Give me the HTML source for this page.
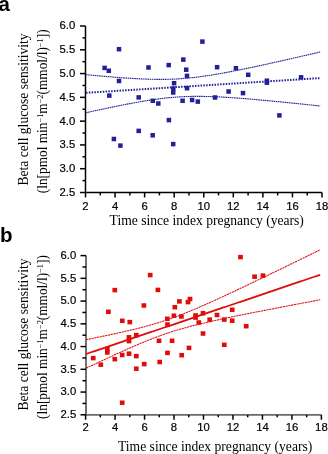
<!DOCTYPE html>
<html><head><meta charset="utf-8"><style>
html,body{margin:0;padding:0;background:#fff;}
body{width:328px;height:454px;overflow:hidden;}
svg{display:block;will-change:transform;}
.tl{font-family:"Liberation Sans",sans-serif;font-size:11.3px;fill:#000;stroke:#000;stroke-width:0.2px;}
.at{font-family:"Liberation Serif",serif;font-size:13.6px;fill:#000;}
.sup{font-size:8.5px;}
.pl{font-family:"Liberation Sans",sans-serif;font-size:20.5px;font-weight:bold;fill:#000;}
</style></head><body>
<svg width="328" height="454" viewBox="0 0 328 454">
<line x1="85.5" y1="26.0" x2="85.5" y2="192.4" stroke="#000" stroke-width="1.5"/>
<line x1="85.5" y1="192.4" x2="322.0" y2="192.4" stroke="#000" stroke-width="1.5"/>
<line x1="80.00" y1="26.00" x2="85.5" y2="26.00" stroke="#000" stroke-width="1.5"/>
<line x1="82.50" y1="37.89" x2="85.5" y2="37.89" stroke="#000" stroke-width="1.5"/>
<line x1="80.00" y1="49.79" x2="85.5" y2="49.79" stroke="#000" stroke-width="1.5"/>
<line x1="82.50" y1="61.68" x2="85.5" y2="61.68" stroke="#000" stroke-width="1.5"/>
<line x1="80.00" y1="73.57" x2="85.5" y2="73.57" stroke="#000" stroke-width="1.5"/>
<line x1="82.50" y1="85.46" x2="85.5" y2="85.46" stroke="#000" stroke-width="1.5"/>
<line x1="80.00" y1="97.36" x2="85.5" y2="97.36" stroke="#000" stroke-width="1.5"/>
<line x1="82.50" y1="109.25" x2="85.5" y2="109.25" stroke="#000" stroke-width="1.5"/>
<line x1="80.00" y1="121.14" x2="85.5" y2="121.14" stroke="#000" stroke-width="1.5"/>
<line x1="82.50" y1="133.04" x2="85.5" y2="133.04" stroke="#000" stroke-width="1.5"/>
<line x1="80.00" y1="144.93" x2="85.5" y2="144.93" stroke="#000" stroke-width="1.5"/>
<line x1="82.50" y1="156.82" x2="85.5" y2="156.82" stroke="#000" stroke-width="1.5"/>
<line x1="80.00" y1="168.71" x2="85.5" y2="168.71" stroke="#000" stroke-width="1.5"/>
<line x1="82.50" y1="180.61" x2="85.5" y2="180.61" stroke="#000" stroke-width="1.5"/>
<line x1="80.00" y1="192.50" x2="85.5" y2="192.50" stroke="#000" stroke-width="1.5"/>
<line x1="85.50" y1="192.4" x2="85.50" y2="197.4" stroke="#000" stroke-width="1.5"/>
<line x1="100.28" y1="192.4" x2="100.28" y2="195.4" stroke="#000" stroke-width="1.5"/>
<line x1="115.06" y1="192.4" x2="115.06" y2="197.4" stroke="#000" stroke-width="1.5"/>
<line x1="129.84" y1="192.4" x2="129.84" y2="195.4" stroke="#000" stroke-width="1.5"/>
<line x1="144.62" y1="192.4" x2="144.62" y2="197.4" stroke="#000" stroke-width="1.5"/>
<line x1="159.41" y1="192.4" x2="159.41" y2="195.4" stroke="#000" stroke-width="1.5"/>
<line x1="174.19" y1="192.4" x2="174.19" y2="197.4" stroke="#000" stroke-width="1.5"/>
<line x1="188.97" y1="192.4" x2="188.97" y2="195.4" stroke="#000" stroke-width="1.5"/>
<line x1="203.75" y1="192.4" x2="203.75" y2="197.4" stroke="#000" stroke-width="1.5"/>
<line x1="218.53" y1="192.4" x2="218.53" y2="195.4" stroke="#000" stroke-width="1.5"/>
<line x1="233.31" y1="192.4" x2="233.31" y2="197.4" stroke="#000" stroke-width="1.5"/>
<line x1="248.09" y1="192.4" x2="248.09" y2="195.4" stroke="#000" stroke-width="1.5"/>
<line x1="262.88" y1="192.4" x2="262.88" y2="197.4" stroke="#000" stroke-width="1.5"/>
<line x1="277.66" y1="192.4" x2="277.66" y2="195.4" stroke="#000" stroke-width="1.5"/>
<line x1="292.44" y1="192.4" x2="292.44" y2="197.4" stroke="#000" stroke-width="1.5"/>
<line x1="307.22" y1="192.4" x2="307.22" y2="195.4" stroke="#000" stroke-width="1.5"/>
<line x1="322.00" y1="192.4" x2="322.00" y2="197.4" stroke="#000" stroke-width="1.5"/>
<text x="75.3" y="29.40" text-anchor="end" class="tl">6.0</text>
<text x="75.3" y="53.19" text-anchor="end" class="tl">5.5</text>
<text x="75.3" y="76.97" text-anchor="end" class="tl">5.0</text>
<text x="75.3" y="100.76" text-anchor="end" class="tl">4.5</text>
<text x="75.3" y="124.54" text-anchor="end" class="tl">4.0</text>
<text x="75.3" y="148.33" text-anchor="end" class="tl">3.5</text>
<text x="75.3" y="172.11" text-anchor="end" class="tl">3.0</text>
<text x="75.3" y="195.90" text-anchor="end" class="tl">2.5</text>
<text x="85.50" y="210.4" text-anchor="middle" class="tl">2</text>
<text x="115.06" y="210.4" text-anchor="middle" class="tl">4</text>
<text x="144.62" y="210.4" text-anchor="middle" class="tl">6</text>
<text x="174.19" y="210.4" text-anchor="middle" class="tl">8</text>
<text x="203.75" y="210.4" text-anchor="middle" class="tl">10</text>
<text x="233.31" y="210.4" text-anchor="middle" class="tl">12</text>
<text x="262.88" y="210.4" text-anchor="middle" class="tl">14</text>
<text x="292.44" y="210.4" text-anchor="middle" class="tl">16</text>
<text x="322.00" y="210.4" text-anchor="middle" class="tl">18</text>
<line x1="86.0" y1="255.6" x2="86.0" y2="414.9" stroke="#686868" stroke-width="1.9"/>
<line x1="86.0" y1="414.9" x2="321.4" y2="414.9" stroke="#686868" stroke-width="1.9"/>
<line x1="80.50" y1="255.60" x2="86.0" y2="255.60" stroke="#000" stroke-width="1.5"/>
<line x1="82.40" y1="266.97" x2="86.0" y2="266.97" stroke="#000" stroke-width="1.5"/>
<line x1="80.50" y1="278.34" x2="86.0" y2="278.34" stroke="#000" stroke-width="1.5"/>
<line x1="82.40" y1="289.71" x2="86.0" y2="289.71" stroke="#000" stroke-width="1.5"/>
<line x1="80.50" y1="301.09" x2="86.0" y2="301.09" stroke="#000" stroke-width="1.5"/>
<line x1="82.40" y1="312.46" x2="86.0" y2="312.46" stroke="#000" stroke-width="1.5"/>
<line x1="80.50" y1="323.83" x2="86.0" y2="323.83" stroke="#000" stroke-width="1.5"/>
<line x1="82.40" y1="335.20" x2="86.0" y2="335.20" stroke="#000" stroke-width="1.5"/>
<line x1="80.50" y1="346.57" x2="86.0" y2="346.57" stroke="#000" stroke-width="1.5"/>
<line x1="82.40" y1="357.94" x2="86.0" y2="357.94" stroke="#000" stroke-width="1.5"/>
<line x1="80.50" y1="369.31" x2="86.0" y2="369.31" stroke="#000" stroke-width="1.5"/>
<line x1="82.40" y1="380.69" x2="86.0" y2="380.69" stroke="#000" stroke-width="1.5"/>
<line x1="80.50" y1="392.06" x2="86.0" y2="392.06" stroke="#000" stroke-width="1.5"/>
<line x1="82.40" y1="403.43" x2="86.0" y2="403.43" stroke="#000" stroke-width="1.5"/>
<line x1="80.50" y1="414.80" x2="86.0" y2="414.80" stroke="#000" stroke-width="1.5"/>
<line x1="85.60" y1="414.9" x2="85.60" y2="419.7" stroke="#000" stroke-width="1.5"/>
<line x1="100.34" y1="414.9" x2="100.34" y2="417.29999999999995" stroke="#000" stroke-width="1.5"/>
<line x1="115.07" y1="414.9" x2="115.07" y2="419.7" stroke="#000" stroke-width="1.5"/>
<line x1="129.81" y1="414.9" x2="129.81" y2="417.29999999999995" stroke="#000" stroke-width="1.5"/>
<line x1="144.55" y1="414.9" x2="144.55" y2="419.7" stroke="#000" stroke-width="1.5"/>
<line x1="159.29" y1="414.9" x2="159.29" y2="417.29999999999995" stroke="#000" stroke-width="1.5"/>
<line x1="174.02" y1="414.9" x2="174.02" y2="419.7" stroke="#000" stroke-width="1.5"/>
<line x1="188.76" y1="414.9" x2="188.76" y2="417.29999999999995" stroke="#000" stroke-width="1.5"/>
<line x1="203.50" y1="414.9" x2="203.50" y2="419.7" stroke="#000" stroke-width="1.5"/>
<line x1="218.24" y1="414.9" x2="218.24" y2="417.29999999999995" stroke="#000" stroke-width="1.5"/>
<line x1="232.97" y1="414.9" x2="232.97" y2="419.7" stroke="#000" stroke-width="1.5"/>
<line x1="247.71" y1="414.9" x2="247.71" y2="417.29999999999995" stroke="#000" stroke-width="1.5"/>
<line x1="262.45" y1="414.9" x2="262.45" y2="419.7" stroke="#000" stroke-width="1.5"/>
<line x1="277.19" y1="414.9" x2="277.19" y2="417.29999999999995" stroke="#000" stroke-width="1.5"/>
<line x1="291.92" y1="414.9" x2="291.92" y2="419.7" stroke="#000" stroke-width="1.5"/>
<line x1="306.66" y1="414.9" x2="306.66" y2="417.29999999999995" stroke="#000" stroke-width="1.5"/>
<line x1="321.40" y1="414.9" x2="321.40" y2="419.7" stroke="#000" stroke-width="1.5"/>
<text x="76.2" y="259.00" text-anchor="end" class="tl">6.0</text>
<text x="76.2" y="281.74" text-anchor="end" class="tl">5.5</text>
<text x="76.2" y="304.49" text-anchor="end" class="tl">5.0</text>
<text x="76.2" y="327.23" text-anchor="end" class="tl">4.5</text>
<text x="76.2" y="349.97" text-anchor="end" class="tl">4.0</text>
<text x="76.2" y="372.71" text-anchor="end" class="tl">3.5</text>
<text x="76.2" y="395.46" text-anchor="end" class="tl">3.0</text>
<text x="76.2" y="418.20" text-anchor="end" class="tl">2.5</text>
<text x="85.60" y="431.3" text-anchor="middle" class="tl">2</text>
<text x="115.07" y="431.3" text-anchor="middle" class="tl">4</text>
<text x="144.55" y="431.3" text-anchor="middle" class="tl">6</text>
<text x="174.02" y="431.3" text-anchor="middle" class="tl">8</text>
<text x="203.50" y="431.3" text-anchor="middle" class="tl">10</text>
<text x="232.97" y="431.3" text-anchor="middle" class="tl">12</text>
<text x="262.45" y="431.3" text-anchor="middle" class="tl">14</text>
<text x="291.92" y="431.3" text-anchor="middle" class="tl">16</text>
<text x="321.40" y="431.3" text-anchor="middle" class="tl">18</text>
<path d="M86.00,92.80 L88.93,92.62 L91.86,92.43 L94.78,92.25 L97.71,92.06 L100.64,91.88 L103.56,91.70 L106.49,91.51 L109.42,91.33 L112.35,91.15 L115.28,90.96 L118.20,90.78 L121.13,90.59 L124.06,90.41 L126.98,90.23 L129.91,90.04 L132.84,89.86 L135.77,89.67 L138.69,89.49 L141.62,89.31 L144.55,89.12 L147.48,88.94 L150.41,88.76 L153.33,88.57 L156.26,88.39 L159.19,88.20 L162.12,88.02 L165.04,87.84 L167.97,87.65 L170.90,87.47 L173.82,87.28 L176.75,87.10 L179.68,86.92 L182.61,86.73 L185.53,86.55 L188.46,86.37 L191.39,86.18 L194.32,86.00 L197.25,85.81 L200.17,85.63 L203.10,85.45 L206.03,85.26 L208.95,85.08 L211.88,84.89 L214.81,84.71 L217.74,84.53 L220.66,84.34 L223.59,84.16 L226.52,83.98 L229.45,83.79 L232.38,83.61 L235.30,83.42 L238.23,83.24 L241.16,83.06 L244.08,82.87 L247.01,82.69 L249.94,82.50 L252.87,82.32 L255.79,82.14 L258.72,81.95 L261.65,81.77 L264.58,81.59 L267.50,81.40 L270.43,81.22 L273.36,81.03 L276.29,80.85 L279.21,80.67 L282.14,80.48 L285.07,80.30 L288.00,80.11 L290.93,79.93 L293.85,79.75 L296.78,79.56 L299.71,79.38 L302.63,79.20 L305.56,79.01 L308.49,78.83 L311.42,78.64 L314.34,78.46 L317.27,78.28 L320.20,78.09" fill="none" stroke="#222096" stroke-width="2.0" stroke-dasharray="1.5 1.3"/>
<path d="M86.00,74.65 L88.93,74.93 L91.86,75.21 L94.78,75.48 L97.71,75.74 L100.64,76.01 L103.56,76.26 L106.49,76.52 L109.42,76.76 L112.35,77.00 L115.28,77.24 L118.20,77.46 L121.13,77.68 L124.06,77.89 L126.98,78.09 L129.91,78.28 L132.84,78.46 L135.77,78.63 L138.69,78.78 L141.62,78.92 L144.55,79.04 L147.48,79.15 L150.41,79.23 L153.33,79.30 L156.26,79.35 L159.19,79.37 L162.12,79.36 L165.04,79.33 L167.97,79.28 L170.90,79.19 L173.82,79.08 L176.75,78.93 L179.68,78.76 L182.61,78.55 L185.53,78.31 L188.46,78.05 L191.39,77.75 L194.32,77.43 L197.25,77.08 L200.17,76.70 L203.10,76.30 L206.03,75.88 L208.95,75.43 L211.88,74.97 L214.81,74.49 L217.74,73.99 L220.66,73.48 L223.59,72.95 L226.52,72.41 L229.45,71.86 L232.38,71.30 L235.30,70.72 L238.23,70.14 L241.16,69.55 L244.08,68.95 L247.01,68.35 L249.94,67.74 L252.87,67.12 L255.79,66.50 L258.72,65.87 L261.65,65.24 L264.58,64.60 L267.50,63.96 L270.43,63.32 L273.36,62.67 L276.29,62.02 L279.21,61.37 L282.14,60.71 L285.07,60.05 L288.00,59.39 L290.93,58.72 L293.85,58.06 L296.78,57.39 L299.71,56.72 L302.63,56.05 L305.56,55.38 L308.49,54.70 L311.42,54.02 L314.34,53.35 L317.27,52.67 L320.20,51.99" fill="none" stroke="#222096" stroke-width="1.1" stroke-dasharray="1.6 0.6"/>
<path d="M86.00,112.75 L88.93,112.10 L91.86,111.46 L94.78,110.82 L97.71,110.19 L100.64,109.56 L103.56,108.93 L106.49,108.31 L109.42,107.70 L112.35,107.09 L115.28,106.49 L118.20,105.89 L121.13,105.31 L124.06,104.73 L126.98,104.16 L129.91,103.60 L132.84,103.06 L135.77,102.52 L138.69,102.00 L141.62,101.49 L144.55,101.00 L147.48,100.53 L150.41,100.08 L153.33,99.64 L156.26,99.23 L159.19,98.84 L162.12,98.48 L165.04,98.14 L167.97,97.83 L170.90,97.54 L173.82,97.29 L176.75,97.07 L179.68,96.88 L182.61,96.72 L185.53,96.58 L188.46,96.48 L191.39,96.41 L194.32,96.37 L197.25,96.35 L200.17,96.36 L203.10,96.39 L206.03,96.45 L208.95,96.52 L211.88,96.62 L214.81,96.73 L217.74,96.86 L220.66,97.01 L223.59,97.17 L226.52,97.34 L229.45,97.52 L232.38,97.72 L235.30,97.92 L238.23,98.14 L241.16,98.36 L244.08,98.59 L247.01,98.83 L249.94,99.07 L252.87,99.32 L255.79,99.57 L258.72,99.83 L261.65,100.10 L264.58,100.37 L267.50,100.64 L270.43,100.92 L273.36,101.20 L276.29,101.48 L279.21,101.77 L282.14,102.06 L285.07,102.35 L288.00,102.64 L290.93,102.94 L293.85,103.24 L296.78,103.54 L299.71,103.84 L302.63,104.14 L305.56,104.45 L308.49,104.75 L311.42,105.06 L314.34,105.37 L317.27,105.68 L320.20,106.00" fill="none" stroke="#222096" stroke-width="1.1" stroke-dasharray="1.6 0.6"/>
<rect x="116.75" y="46.95" width="4.5" height="4.5" fill="#222096"/>
<rect x="102.35" y="65.65" width="4.5" height="4.5" fill="#222096"/>
<rect x="106.55" y="68.55" width="4.5" height="4.5" fill="#222096"/>
<rect x="116.75" y="78.75" width="4.5" height="4.5" fill="#222096"/>
<rect x="107.05" y="93.35" width="4.5" height="4.5" fill="#222096"/>
<rect x="136.45" y="95.15" width="4.5" height="4.5" fill="#222096"/>
<rect x="136.45" y="128.65" width="4.5" height="4.5" fill="#222096"/>
<rect x="111.65" y="136.75" width="4.5" height="4.5" fill="#222096"/>
<rect x="118.15" y="143.35" width="4.5" height="4.5" fill="#222096"/>
<rect x="146.25" y="65.25" width="4.5" height="4.5" fill="#222096"/>
<rect x="166.45" y="62.85" width="4.5" height="4.5" fill="#222096"/>
<rect x="181.05" y="57.35" width="4.5" height="4.5" fill="#222096"/>
<rect x="183.95" y="67.45" width="4.5" height="4.5" fill="#222096"/>
<rect x="184.75" y="73.65" width="4.5" height="4.5" fill="#222096"/>
<rect x="200.15" y="39.35" width="4.5" height="4.5" fill="#222096"/>
<rect x="171.85" y="80.95" width="4.5" height="4.5" fill="#222096"/>
<rect x="171.05" y="86.35" width="4.5" height="4.5" fill="#222096"/>
<rect x="170.95" y="90.25" width="4.5" height="4.5" fill="#222096"/>
<rect x="184.75" y="85.95" width="4.5" height="4.5" fill="#222096"/>
<rect x="150.55" y="98.55" width="4.5" height="4.5" fill="#222096"/>
<rect x="156.05" y="101.25" width="4.5" height="4.5" fill="#222096"/>
<rect x="180.35" y="98.55" width="4.5" height="4.5" fill="#222096"/>
<rect x="189.85" y="97.75" width="4.5" height="4.5" fill="#222096"/>
<rect x="195.55" y="99.35" width="4.5" height="4.5" fill="#222096"/>
<rect x="166.65" y="117.85" width="4.5" height="4.5" fill="#222096"/>
<rect x="150.45" y="133.05" width="4.5" height="4.5" fill="#222096"/>
<rect x="170.95" y="141.85" width="4.5" height="4.5" fill="#222096"/>
<rect x="214.85" y="64.95" width="4.5" height="4.5" fill="#222096"/>
<rect x="233.65" y="65.95" width="4.5" height="4.5" fill="#222096"/>
<rect x="245.95" y="72.55" width="4.5" height="4.5" fill="#222096"/>
<rect x="226.35" y="89.25" width="4.5" height="4.5" fill="#222096"/>
<rect x="240.75" y="90.85" width="4.5" height="4.5" fill="#222096"/>
<rect x="212.75" y="95.25" width="4.5" height="4.5" fill="#222096"/>
<rect x="264.65" y="78.45" width="4.5" height="4.5" fill="#222096"/>
<rect x="264.65" y="80.45" width="4.5" height="4.5" fill="#222096"/>
<rect x="298.85" y="75.05" width="4.5" height="4.5" fill="#222096"/>
<rect x="277.15" y="113.15" width="4.5" height="4.5" fill="#222096"/>
<path d="M86.00,354.00 L88.93,353.01 L91.86,352.02 L94.78,351.03 L97.71,350.04 L100.64,349.05 L103.56,348.06 L106.49,347.07 L109.42,346.08 L112.35,345.09 L115.28,344.10 L118.20,343.11 L121.13,342.12 L124.06,341.13 L126.98,340.14 L129.91,339.15 L132.84,338.16 L135.77,337.17 L138.69,336.18 L141.62,335.19 L144.55,334.20 L147.48,333.21 L150.41,332.22 L153.33,331.23 L156.26,330.24 L159.19,329.25 L162.12,328.26 L165.04,327.27 L167.97,326.28 L170.90,325.29 L173.82,324.30 L176.75,323.31 L179.68,322.32 L182.61,321.33 L185.53,320.34 L188.46,319.35 L191.39,318.36 L194.32,317.37 L197.25,316.38 L200.17,315.39 L203.10,314.40 L206.03,313.41 L208.95,312.42 L211.88,311.43 L214.81,310.44 L217.74,309.45 L220.66,308.46 L223.59,307.47 L226.52,306.48 L229.45,305.49 L232.38,304.50 L235.30,303.51 L238.23,302.52 L241.16,301.53 L244.08,300.54 L247.01,299.55 L249.94,298.56 L252.87,297.57 L255.79,296.58 L258.72,295.59 L261.65,294.60 L264.58,293.61 L267.50,292.62 L270.43,291.62 L273.36,290.63 L276.29,289.64 L279.21,288.65 L282.14,287.66 L285.07,286.67 L288.00,285.68 L290.93,284.69 L293.85,283.70 L296.78,282.71 L299.71,281.72 L302.63,280.73 L305.56,279.74 L308.49,278.75 L311.42,277.76 L314.34,276.77 L317.27,275.78 L320.20,274.79" fill="none" stroke="#e00c0c" stroke-width="1.8"/>
<path d="M86.00,339.71 L88.93,339.12 L91.86,338.53 L94.78,337.94 L97.71,337.34 L100.64,336.74 L103.56,336.13 L106.49,335.51 L109.42,334.89 L112.35,334.27 L115.28,333.63 L118.20,332.99 L121.13,332.34 L124.06,331.68 L126.98,331.00 L129.91,330.32 L132.84,329.62 L135.77,328.90 L138.69,328.17 L141.62,327.42 L144.55,326.65 L147.48,325.86 L150.41,325.04 L153.33,324.20 L156.26,323.33 L159.19,322.43 L162.12,321.50 L165.04,320.54 L167.97,319.55 L170.90,318.53 L173.82,317.48 L176.75,316.40 L179.68,315.29 L182.61,314.15 L185.53,312.99 L188.46,311.80 L191.39,310.59 L194.32,309.36 L197.25,308.11 L200.17,306.84 L203.10,305.56 L206.03,304.27 L208.95,302.96 L211.88,301.64 L214.81,300.31 L217.74,298.98 L220.66,297.63 L223.59,296.28 L226.52,294.92 L229.45,293.55 L232.38,292.18 L235.30,290.80 L238.23,289.42 L241.16,288.04 L244.08,286.65 L247.01,285.25 L249.94,283.86 L252.87,282.46 L255.79,281.05 L258.72,279.65 L261.65,278.24 L264.58,276.83 L267.50,275.42 L270.43,274.01 L273.36,272.59 L276.29,271.18 L279.21,269.76 L282.14,268.34 L285.07,266.92 L288.00,265.50 L290.93,264.07 L293.85,262.65 L296.78,261.22 L299.71,259.80 L302.63,258.37 L305.56,256.94 L308.49,255.51 L311.42,254.08 L314.34,252.65 L317.27,251.22 L320.20,249.79" fill="none" stroke="#e00c0c" stroke-width="1.05" stroke-dasharray="2.2 0.6"/>
<path d="M86.00,368.29 L88.93,366.90 L91.86,365.51 L94.78,364.12 L97.71,362.74 L100.64,361.36 L103.56,359.99 L106.49,358.63 L109.42,357.27 L112.35,355.91 L115.28,354.57 L118.20,353.23 L121.13,351.90 L124.06,350.58 L126.98,349.28 L129.91,347.98 L132.84,346.70 L135.77,345.44 L138.69,344.19 L141.62,342.96 L144.55,341.75 L147.48,340.56 L150.41,339.40 L153.33,338.26 L156.26,337.15 L159.19,336.06 L162.12,335.01 L165.04,333.99 L167.97,333.00 L170.90,332.04 L173.82,331.11 L176.75,330.22 L179.68,329.35 L182.61,328.51 L185.53,327.69 L188.46,326.90 L191.39,326.13 L194.32,325.38 L197.25,324.64 L200.17,323.93 L203.10,323.23 L206.03,322.54 L208.95,321.87 L211.88,321.21 L214.81,320.56 L217.74,319.92 L220.66,319.28 L223.59,318.65 L226.52,318.03 L229.45,317.42 L232.38,316.81 L235.30,316.21 L238.23,315.61 L241.16,315.02 L244.08,314.43 L247.01,313.84 L249.94,313.25 L252.87,312.67 L255.79,312.10 L258.72,311.52 L261.65,310.95 L264.58,310.38 L267.50,309.81 L270.43,309.24 L273.36,308.68 L276.29,308.11 L279.21,307.55 L282.14,306.99 L285.07,306.43 L288.00,305.87 L290.93,305.32 L293.85,304.76 L296.78,304.20 L299.71,303.65 L302.63,303.10 L305.56,302.55 L308.49,301.99 L311.42,301.44 L314.34,300.89 L317.27,300.34 L320.20,299.80" fill="none" stroke="#e00c0c" stroke-width="1.05" stroke-dasharray="2.2 0.6"/>
<rect x="112.45" y="287.85" width="4.7" height="4.5" fill="#e00c0c"/>
<rect x="106.05" y="309.55" width="4.7" height="4.5" fill="#e00c0c"/>
<rect x="141.55" y="303.25" width="4.7" height="4.5" fill="#e00c0c"/>
<rect x="119.95" y="318.55" width="4.7" height="4.5" fill="#e00c0c"/>
<rect x="127.45" y="319.85" width="4.7" height="4.5" fill="#e00c0c"/>
<rect x="126.65" y="335.05" width="4.7" height="4.5" fill="#e00c0c"/>
<rect x="126.65" y="338.85" width="4.7" height="4.5" fill="#e00c0c"/>
<rect x="133.95" y="332.85" width="4.7" height="4.5" fill="#e00c0c"/>
<rect x="104.95" y="346.75" width="4.7" height="4.5" fill="#e00c0c"/>
<rect x="104.95" y="350.25" width="4.7" height="4.5" fill="#e00c0c"/>
<rect x="90.85" y="355.85" width="4.7" height="4.5" fill="#e00c0c"/>
<rect x="98.45" y="362.45" width="4.7" height="4.5" fill="#e00c0c"/>
<rect x="112.45" y="356.95" width="4.7" height="4.5" fill="#e00c0c"/>
<rect x="119.85" y="352.75" width="4.7" height="4.5" fill="#e00c0c"/>
<rect x="126.65" y="351.45" width="4.7" height="4.5" fill="#e00c0c"/>
<rect x="133.95" y="353.85" width="4.7" height="4.5" fill="#e00c0c"/>
<rect x="133.95" y="366.45" width="4.7" height="4.5" fill="#e00c0c"/>
<rect x="141.85" y="361.85" width="4.7" height="4.5" fill="#e00c0c"/>
<rect x="119.85" y="400.45" width="4.7" height="4.5" fill="#e00c0c"/>
<rect x="147.85" y="272.85" width="4.7" height="4.5" fill="#e00c0c"/>
<rect x="155.55" y="287.65" width="4.7" height="4.5" fill="#e00c0c"/>
<rect x="177.05" y="299.15" width="4.7" height="4.5" fill="#e00c0c"/>
<rect x="187.65" y="296.75" width="4.7" height="4.5" fill="#e00c0c"/>
<rect x="185.65" y="299.85" width="4.7" height="4.5" fill="#e00c0c"/>
<rect x="172.45" y="304.95" width="4.7" height="4.5" fill="#e00c0c"/>
<rect x="171.55" y="313.45" width="4.7" height="4.5" fill="#e00c0c"/>
<rect x="164.95" y="316.55" width="4.7" height="4.5" fill="#e00c0c"/>
<rect x="165.15" y="322.25" width="4.7" height="4.5" fill="#e00c0c"/>
<rect x="179.05" y="314.25" width="4.7" height="4.5" fill="#e00c0c"/>
<rect x="193.25" y="313.15" width="4.7" height="4.5" fill="#e00c0c"/>
<rect x="193.25" y="315.35" width="4.7" height="4.5" fill="#e00c0c"/>
<rect x="200.65" y="310.95" width="4.7" height="4.5" fill="#e00c0c"/>
<rect x="196.45" y="320.25" width="4.7" height="4.5" fill="#e00c0c"/>
<rect x="156.65" y="338.55" width="4.7" height="4.5" fill="#e00c0c"/>
<rect x="169.75" y="338.55" width="4.7" height="4.5" fill="#e00c0c"/>
<rect x="165.15" y="350.65" width="4.7" height="4.5" fill="#e00c0c"/>
<rect x="186.65" y="345.65" width="4.7" height="4.5" fill="#e00c0c"/>
<rect x="179.35" y="352.95" width="4.7" height="4.5" fill="#e00c0c"/>
<rect x="157.35" y="359.75" width="4.7" height="4.5" fill="#e00c0c"/>
<rect x="238.15" y="254.85" width="4.7" height="4.5" fill="#e00c0c"/>
<rect x="252.25" y="274.45" width="4.7" height="4.5" fill="#e00c0c"/>
<rect x="260.65" y="273.35" width="4.7" height="4.5" fill="#e00c0c"/>
<rect x="229.85" y="307.55" width="4.7" height="4.5" fill="#e00c0c"/>
<rect x="214.65" y="312.75" width="4.7" height="4.5" fill="#e00c0c"/>
<rect x="207.35" y="317.35" width="4.7" height="4.5" fill="#e00c0c"/>
<rect x="221.95" y="317.35" width="4.7" height="4.5" fill="#e00c0c"/>
<rect x="229.85" y="318.45" width="4.7" height="4.5" fill="#e00c0c"/>
<rect x="243.85" y="323.95" width="4.7" height="4.5" fill="#e00c0c"/>
<rect x="221.95" y="342.55" width="4.7" height="4.5" fill="#e00c0c"/>
<rect x="200.65" y="331.25" width="4.7" height="4.5" fill="#e00c0c"/>
<text transform="translate(28.1,109.45) rotate(-90)" text-anchor="middle" class="at">Beta cell glucose sensitivity</text><text transform="translate(46.8,111.3) rotate(-90) scale(0.98,1)" text-anchor="middle" class="at">(ln[pmol min<tspan class="sup" dy="-4">−1</tspan><tspan dy="4">m</tspan><tspan class="sup" dy="-4">−2</tspan><tspan dy="4">(mmol/l)</tspan><tspan class="sup" dy="-4">−1</tspan><tspan dy="4">])</tspan></text>
<text transform="translate(28.3,334.55) rotate(-90)" text-anchor="middle" class="at">Beta cell glucose sensitivity</text><text transform="translate(47.0,337.0) rotate(-90) scale(0.98,1)" text-anchor="middle" class="at">(ln[pmol min<tspan class="sup" dy="-4">−1</tspan><tspan dy="4">m</tspan><tspan class="sup" dy="-4">−2</tspan><tspan dy="4">(mmol/l)</tspan><tspan class="sup" dy="-4">−1</tspan><tspan dy="4">])</tspan></text>
<text x="109.6" y="225.4" class="at">Time since index pregnancy (years)</text>
<text x="118.0" y="450.6" class="at">Time since index pregnancy (years)</text>
<text x="-1.4" y="10.6" class="pl">a</text>
<text x="0" y="242" class="pl">b</text>
</svg>
</body></html>
